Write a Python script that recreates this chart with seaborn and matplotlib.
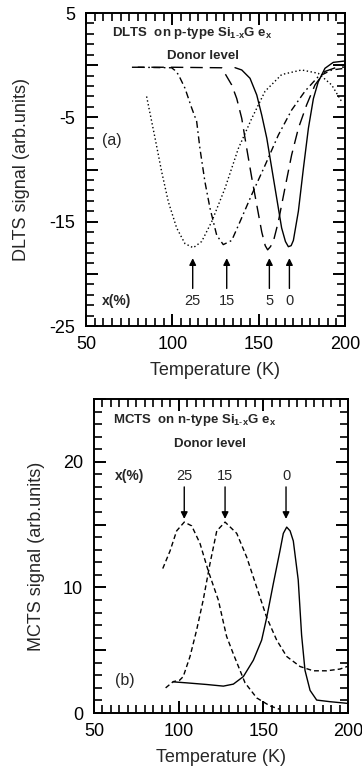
import matplotlib
matplotlib.use("Agg")
import matplotlib.pyplot as plt
from matplotlib.ticker import MultipleLocator, FuncFormatter
import seaborn as sns

# ---- DLTS on p-type SiGe (panel a) ----
T_a0 = [136.3, 140.2, 145.0, 148.9, 151.8, 154.7, 157.6, 160.5, 163.3, 165.5,
        167.2, 168.8, 170.1, 173.0, 175.9, 178.8, 181.7, 184.5, 188.4, 193.2, 200.0]
S_a0 = [-0.24, -0.46, -1.26, -2.86, -4.8, -7.0, -9.9, -12.8, -15.6, -16.9,
        -17.4, -17.3, -16.8, -14.0, -9.9, -6.05, -3.2, -1.6, -0.3, 0.27, 0.4]

T_a5 = [76.6, 100.0, 128.6, 130.5, 134.4, 137.3, 140.2, 143.1, 146.0, 148.9, 151.8,
        153.8, 155.2, 156.8, 158.5, 161.4, 165.2, 169.1, 173.0, 177.8, 182.6, 188.4,
        196.1, 200.0]
S_a5 = [-0.2, -0.2, -0.25, -0.8, -1.9, -3.2, -5.1, -8.0, -10.8, -13.4, -16.0,
        -17.3, -17.7, -17.4, -16.9, -15.0, -11.8, -8.6, -6.05, -3.8, -1.9, -0.6,
        -0.15, -0.2]

T_a15 = [80.0, 99.6, 101.5, 103.5, 107.3, 111.2, 114.1, 116.0, 118.9, 121.8, 125.7,
         129.5, 134.4, 139.2, 146.0, 153.7, 161.4, 169.1, 176.8, 184.5, 192.3, 200.0]
S_a15 = [-0.2, -0.25, -0.5, -0.9, -2.2, -4.1, -5.4, -8.0, -11.2, -13.7, -16.3,
         -17.2, -16.8, -15.0, -12.4, -9.6, -6.7, -4.3, -2.5, -1.1, -0.46, -0.3]

T_a25 = [85.1, 90.0, 93.8, 97.7, 102.5, 107.3, 112.1, 117.0, 122.8, 130.5, 138.2,
         146.0, 153.7, 163.3, 174.9, 184.5, 192.3, 198.1]
S_a25 = [-3.0, -7.0, -10.2, -13.1, -15.6, -17.1, -17.5, -16.9, -15.0, -11.8, -8.0,
         -5.1, -2.5, -0.9, -0.46, -0.78, -1.9, -3.5]

peaks_a_T = [111.8, 131.5, 156.2, 167.8]
peaks_a_lbl = ["25", "15", "5", "0"]

# ---- MCTS on n-type SiGe (panel b) ----
T_b0 = [96.8, 104.7, 116.5, 126.4, 132.3, 138.2, 144.1, 149.0, 152.0, 155.9, 159.8,
        161.8, 163.8, 165.8, 167.7, 170.6, 172.6, 174.6, 177.6, 181.5, 189.4, 199.5]
S_b0 = [2.48, 2.4, 2.27, 2.14, 2.3, 2.9, 4.2, 5.8, 7.6, 10.3, 12.9,
        14.3, 14.8, 14.5, 13.7, 10.6, 6.2, 3.4, 1.8, 1.03, 0.9, 0.77]

T_b15 = [92.3, 96.8, 100.5, 102.7, 106.7, 110.6, 114.5, 118.5, 122.5, 127.4, 134.3,
         140.2, 146.1, 152.0, 157.9, 163.8, 171.7, 179.5, 187.4, 195.3, 199.5]
S_b15 = [2.0, 2.5, 2.6, 2.9, 4.5, 6.6, 9.0, 11.9, 14.5, 15.2, 14.3,
         12.4, 10.0, 7.6, 5.8, 4.5, 3.7, 3.36, 3.36, 3.5, 3.7]

T_b25 = [90.6, 94.9, 98.8, 103.3, 107.7, 112.6, 117.5, 123.4, 128.3, 132.3, 139.2,
         146.1, 154.0, 159.8]
S_b25 = [11.5, 12.9, 14.5, 15.2, 14.9, 13.5, 11.3, 9.0, 6.1, 4.7, 2.4,
         1.2, 0.56, 0.29]

peaks_b_T = [103.3, 127.4, 163.4]
peaks_b_lbl = ["25", "15", "0"]

sns.set_theme(style="ticks")
plt.rcParams.update({
    "font.family": ["Liberation Sans", "DejaVu Sans"],
    "mathtext.fontset": "custom",
    "mathtext.rm": "Liberation Sans",
    "mathtext.bf": "Liberation Sans:bold",
    "mathtext.it": "Liberation Sans:italic",
    "axes.axisbelow": False,
    "axes.edgecolor": "black",
    "axes.linewidth": 1.4,
    "xtick.direction": "in", "ytick.direction": "in",
    "xtick.top": True, "xtick.bottom": True,
    "ytick.left": True, "ytick.right": True,
    "xtick.color": "black", "ytick.color": "black",
    "xtick.major.size": 8.5, "ytick.major.size": 8.5,
    "xtick.minor.size": 5.5, "ytick.minor.size": 5.5,
    "xtick.major.width": 1.4, "ytick.major.width": 1.4,
    "xtick.minor.width": 1.2, "ytick.minor.width": 1.2,
    "xtick.minor.visible": True, "ytick.minor.visible": True,
    "xtick.major.pad": 7, "ytick.major.pad": 8,
    "xtick.labelsize": 13, "ytick.labelsize": 13,
})

W, H = 362, 771
fig = plt.figure(figsize=(W / 100, H / 100), dpi=100)
ax1 = fig.add_axes([86 / W, 1 - 326 / H, 259 / W, 313 / H])
ax2 = fig.add_axes([94 / W, 1 - 713 / H, 254 / W, 314 / H])

LW = 1.0


def curve(ax, x, y, ls):
    sns.lineplot(x=x, y=y, ax=ax, color="black", lw=LW, linestyle=ls,
                 estimator=None, sort=False)


curve(ax1, T_a0, S_a0, "-")
curve(ax1, T_a5, S_a5, (0, (9, 5)))
curve(ax1, T_a15, S_a15, (0, (5, 2.5, 1.2, 2.5)))
curve(ax1, T_a25, S_a25, (0, (1, 1.8)))

curve(ax2, T_b0, S_b0, "-")
curve(ax2, T_b15, S_b15, (0, (3.5, 2.2)))
curve(ax2, T_b25, S_b25, (0, (3.5, 2.2)))


def style_axes(ax, ylim, label_every):
    ax.set_xlim(50, 200)
    ax.set_ylim(*ylim)
    ax.xaxis.set_major_locator(MultipleLocator(50))
    ax.xaxis.set_minor_locator(MultipleLocator(5))
    ax.yaxis.set_major_locator(MultipleLocator(5))
    ax.yaxis.set_minor_locator(MultipleLocator(1))
    ax.yaxis.set_major_formatter(FuncFormatter(label_every))
    ax.set_xlabel("Temperature (K)", fontsize=13, labelpad=7)


style_axes(ax1, (-25, 5),
           lambda v, p: f"{int(round(v))}" if int(round(v)) % 10 in (5, -5) else "")
style_axes(ax2, (0, 25),
           lambda v, p: f"{int(round(v))}" if int(round(v)) % 10 == 0 else "")

ax1.set_ylabel("DLTS signal (arb.units)", fontsize=13, labelpad=14)
ax2.set_ylabel("MCTS signal (arb.units)", fontsize=13, labelpad=13)

title_a = r"DLTS  on p-type Si$_{\mathbf{1\text{-}x}}$G e$_{\mathbf{x}}$"
title_b = r"MCTS  on n-type Si$_{\mathbf{1\text{-}x}}$G e$_{\mathbf{x}}$"

# panel (a) annotations
ax1.text(65, 3.1, title_a, fontsize=9.5, fontweight="bold", ha="left", va="center")
ax1.text(118, 0.9, "Donor level", fontsize=9.5, fontweight="bold",
         ha="center", va="center")
ax1.text(59, -7.2, "(a)", fontsize=11.5, ha="left", va="center")
ax1.text(59, -22.6, "x(%)", fontsize=10, fontweight="bold", ha="left", va="center")
for t, lbl in zip(peaks_a_T, peaks_a_lbl):
    ax1.annotate("", xy=(t, -18.5), xytext=(t, -21.4),
                 arrowprops=dict(arrowstyle="-|>", color="black", lw=1.0,
                                 mutation_scale=10, shrinkA=0, shrinkB=0))
    ax1.text(t, -22.6, lbl, fontsize=10.5, ha="center", va="center")

# panel (b) annotations
ax2.text(61.2, 23.3, title_b, fontsize=9.5, fontweight="bold", ha="left", va="center")
ax2.text(118.5, 21.4, "Donor level", fontsize=9.5, fontweight="bold",
         ha="center", va="center")
ax2.text(62.4, 2.6, "(b)", fontsize=11.5, ha="left", va="center")
ax2.text(62.4, 18.9, "x(%)", fontsize=10, fontweight="bold", ha="left", va="center")
for t, lbl in zip(peaks_b_T, peaks_b_lbl):
    ax2.annotate("", xy=(t, 15.45), xytext=(t, 18.0),
                 arrowprops=dict(arrowstyle="-|>", color="black", lw=1.0,
                                 mutation_scale=10, shrinkA=0, shrinkB=0))
    ax2.text(t, 18.9, lbl, fontsize=10.5, ha="center", va="center")

fig.savefig("out.png", dpi=100)
